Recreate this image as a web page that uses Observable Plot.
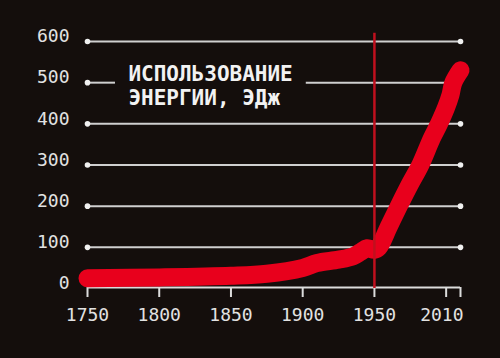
<!DOCTYPE html>
<html>
<head>
<meta charset="utf-8">
<script src="https://cdn.jsdelivr.net/npm/d3@7"></script>
<script src="https://cdn.jsdelivr.net/npm/@observablehq/plot@0.6"></script>
<style>
  html, body { margin: 0; padding: 0; background: #140e0c; }
  #chart { width: 500px; height: 358px; }
</style>
</head>
<body>
<div id="chart"></div>
<script>
const years  = [1750, 1800, 1850, 1875, 1900, 1910, 1925, 1935, 1940, 1945, 1950, 1953, 1960, 1967, 1975, 1982, 1990, 1995, 2000, 2003, 2005, 2010];
const energy = [25,   27,   31,   36,   50,   62,   70,   78,   88,   98,   94,   100,  150,  200,  255,  300,  365,  400,  440,  470,  500,  530];
const xTicks = [1750, 1800, 1850, 1900, 1950, 2000, 2010];
const xLabels = [1750, 1800, 1850, 1900, 1950];
const xLastLabel = [2010];
const yTicks = [0, 100, 200, 300, 400, 500, 600];
const gridFull = [100, 200, 300, 400, 600];
const titleLines = ["ИСПОЛЬЗОВАНИЕ", "ЭНЕРГИИ, ЭДж"];
const markerYear = 1950;

const data = years.map((y, i) => ({year: y, value: energy[i]}));
const fg = "#e2e2e2";
const mono = "'DejaVu Sans Mono', 'Liberation Mono', monospace";

const chart = Plot.plot({
  width: 500,
  height: 358,
  marginLeft: 87,
  marginRight: 40,
  marginTop: 41,
  marginBottom: 70,
  x: {domain: [1750, 2010], axis: null},
  y: {domain: [0, 600], axis: null},
  style: {background: "#140e0c", color: fg, fontFamily: mono, overflow: "visible"},
  marks: [
    Plot.ruleY(gridFull, {y: d => d, x1: 1750, x2: 2010, stroke: "#cfcfcf", strokeWidth: 2}),
    Plot.ruleY([500], {y: d => d, x1: 1750, x2: 1769.5, stroke: "#cfcfcf", strokeWidth: 2}),
    Plot.ruleY([500], {y: d => d, x1: 1902.5, x2: 2004, stroke: "#cfcfcf", strokeWidth: 2}),
    Plot.dot(gridFull.concat([500]), {x: 1750, y: d => d, r: 2.8, fill: "#f0f0f0"}),
    Plot.dot(gridFull, {x: 2010, y: d => d, r: 2.8, fill: "#f0f0f0"}),
    Plot.ruleY([0], {x1: 1750, x2: 2010, stroke: "#dcdcdc", strokeWidth: 2, dy: -1}),
    Plot.axisX({ticks: xTicks, tickSize: 10, tickFormat: () => "", label: null, stroke: "#dcdcdc", strokeWidth: 2, dy: -1}),
    Plot.text(xLabels, {x: d => d, y: 0, dy: 27, text: d => String(d), fontSize: 18, fill: fg, fontFamily: mono}),
    Plot.text(xLastLabel, {x: d => d, y: 0, dy: 27, dx: 3, text: d => String(d), textAnchor: "end", fontSize: 18, fill: fg, fontFamily: mono}),
    Plot.text(yTicks, {x: 1750, y: d => d, dx: -18, dy: -5, text: d => String(d), textAnchor: "end", fontSize: 18, fill: fg, fontFamily: mono}),
    Plot.text([titleLines[0]], {x: 1778.5, y: 520, text: d => d, textAnchor: "start", fontSize: 21, fontWeight: "bold", fill: "#f2f2f2", fontFamily: mono}),
    Plot.text([titleLines[1]], {x: 1778.5, y: 461.5, text: d => d, textAnchor: "start", fontSize: 21, fontWeight: "bold", fill: "#f2f2f2", fontFamily: mono}),
    Plot.line(data, {x: "year", y: "value", stroke: "#e8001c", strokeWidth: 18, strokeLinecap: "round", strokeLinejoin: "round", curve: "catmull-rom"}),
    Plot.ruleX([markerYear], {x: d => d, y1: 0, y2: 620, stroke: "#c0101e", strokeWidth: 2.5})
  ]
});
document.getElementById("chart").appendChild(chart);
</script>
</body>
</html>
